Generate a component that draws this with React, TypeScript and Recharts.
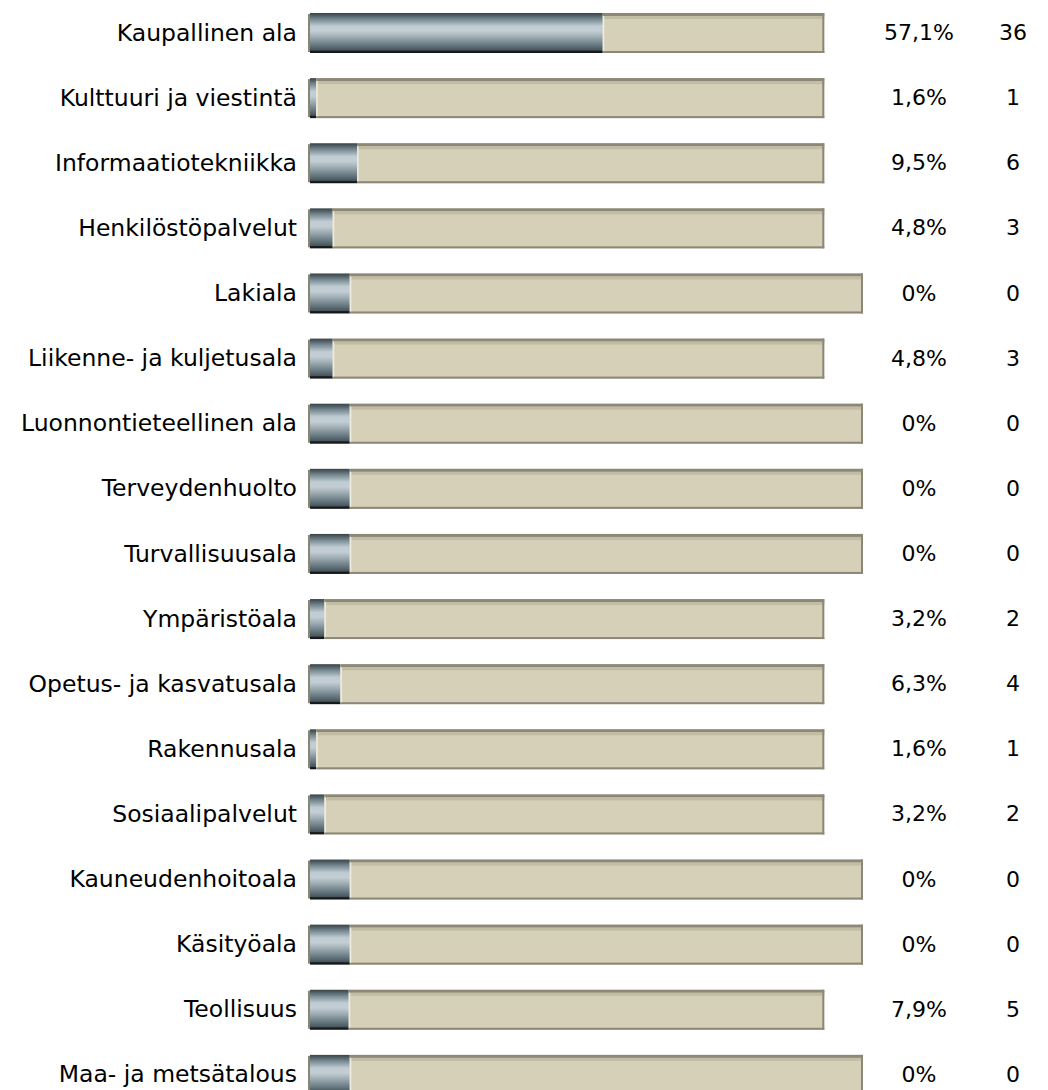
import React from "react";
import { BarChart, Bar, XAxis, YAxis } from "recharts";

const categories = [
  "Kaupallinen ala",
  "Kulttuuri ja viestintä",
  "Informaatiotekniikka",
  "Henkilöstöpalvelut",
  "Lakiala",
  "Liikenne- ja kuljetusala",
  "Luonnontieteellinen ala",
  "Terveydenhuolto",
  "Turvallisuusala",
  "Ympäristöala",
  "Opetus- ja kasvatusala",
  "Rakennusala",
  "Sosiaalipalvelut",
  "Kauneudenhoitoala",
  "Käsityöala",
  "Teollisuus",
  "Maa- ja metsätalous",
];
const percents = [57.1, 1.6, 9.5, 4.8, 0, 4.8, 0, 0, 0, 3.2, 6.3, 1.6, 3.2, 0, 0, 7.9, 0];
const counts = [36, 1, 6, 3, 0, 3, 0, 0, 0, 2, 4, 1, 2, 0, 0, 5, 0];

const FULL = 100;
const DOMAIN_MAX = 107.5;
const ZERO_STUB = 8.1;

const data = categories.map((name, i) => {
  const pct = percents[i];
  const filled = pct > 0 ? pct : ZERO_STUB;
  const end = pct > 0 ? FULL : DOMAIN_MAX;
  return { name, pct, count: counts[i], filled, rest: end - filled };
});

const fmtPct = (p: number) => (p === 0 ? "0%" : p.toFixed(1).replace(".", ",") + "%");

const FONT = "'DejaVu Sans', Verdana, sans-serif";

const FillShape = (props: any) => {
  const { x, y, width, height } = props;
  return (
    <g>
      <rect x={x} y={y + 1} width={2.5} height={height - 2} fill="#8a8472" />
      <rect x={x + 2} y={y} width={Math.max(width - 2, 0)} height={height} fill="url(#steelGrad)" />
    </g>
  );
};

const RestShape = (props: any) => {
  const { x, y, width, height } = props;
  return (
    <g>
      <rect x={x} y={y} width={width} height={height} fill="#d5d0b7" />
      <rect x={x} y={y} width={width} height={3} fill="#8c8777" />
      <rect x={x} y={y + 3} width={width} height={3} fill="#c1bda5" />
      <rect x={x} y={y + height - 2} width={width} height={2} fill="#8c8777" />
      <rect x={x + width - 2} y={y} width={2} height={height} fill="#8c8777" />
      <rect x={x} y={y + 3} width={1.5} height={height - 5} fill="#eeebe1" />
    </g>
  );
};

const LeftTick = (props: any) => {
  const { x, y, payload } = props;
  return (
    <text x={x} y={y} textAnchor="end" dominantBaseline="central" fontFamily={FONT} fontSize={23.5} fill="#000">
      {payload.value}
    </text>
  );
};

const RightTick = (props: any) => {
  const { x, y, index } = props;
  const d = data[index];
  if (!d) return null;
  return (
    <g fontFamily={FONT} fontSize={22} fill="#000">
      <text x={x + 56} y={y} textAnchor="middle" dominantBaseline="central">
        {fmtPct(d.pct)}
      </text>
      <text x={x + 150} y={y} textAnchor="middle" dominantBaseline="central">
        {d.count}
      </text>
    </g>
  );
};

export default function App() {
  return (
    <div style={{ position: "absolute", left: 0, top: 0, width: 1048, height: 1107 }}>
      <BarChart
        width={1048}
        height={1107}
        data={data}
        layout="vertical"
        margin={{ top: 0, right: 0, bottom: 0, left: 0 }}
        barSize={40}
      >
        <defs>
          <linearGradient id="steelGrad" x1="0" y1="0" x2="0" y2="1">
            <stop offset="0" stopColor="#3c4441" />
            <stop offset="0.05" stopColor="#4a5961" />
            <stop offset="0.15" stopColor="#76878f" />
            <stop offset="0.33" stopColor="#bfccd3" />
            <stop offset="0.45" stopColor="#c3ced4" />
            <stop offset="0.6" stopColor="#9eacb3" />
            <stop offset="0.8" stopColor="#687981" />
            <stop offset="0.93" stopColor="#46555c" />
            <stop offset="0.95" stopColor="#1c2022" />
            <stop offset="1" stopColor="#101010" />
          </linearGradient>
        </defs>
        <XAxis type="number" domain={[0, DOMAIN_MAX]} hide allowDataOverflow />
        <YAxis
          yAxisId="left"
          type="category"
          dataKey="name"
          width={308}
          axisLine={false}
          tickLine={false}
          tickSize={0}
          tickMargin={11}
          interval={0}
          tick={<LeftTick />}
        />
        <YAxis
          yAxisId="right"
          orientation="right"
          type="category"
          dataKey="name"
          width={185}
          axisLine={false}
          tickLine={false}
          tickSize={0}
          tickMargin={0}
          interval={0}
          tick={<RightTick />}
        />
        <Bar yAxisId="left" dataKey="filled" stackId="a" shape={<FillShape />} isAnimationActive={false} />
        <Bar yAxisId="left" dataKey="rest" stackId="a" shape={<RestShape />} isAnimationActive={false} />
      </BarChart>
    </div>
  );
}
